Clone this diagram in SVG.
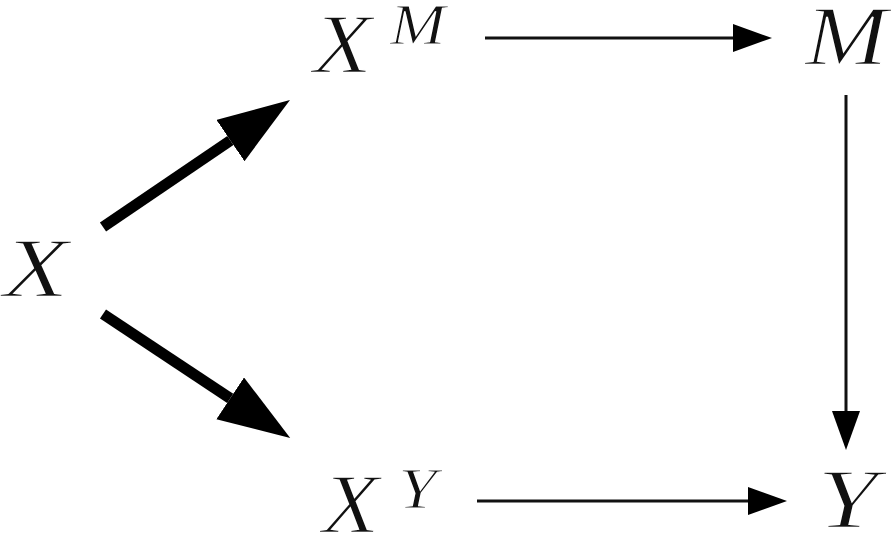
<svg xmlns="http://www.w3.org/2000/svg" width="894" height="536" viewBox="0 0 894 536">
<style>
.lbl{font-family:"Liberation Serif","Times New Roman",serif;font-style:italic;fill:#111;font-size:84px;stroke:#fff;stroke-width:1.6px}
.sup{font-size:58px;stroke-width:1.2px}
.thin{stroke:#111;stroke-width:3;fill:none}
.thick{stroke:#000;stroke-width:11;fill:none}
</style>
<defs>
<marker id="hs" markerUnits="userSpaceOnUse" markerWidth="40" markerHeight="30" refX="0" refY="14" orient="auto" viewBox="0 0 40 30">
<path d="M0,0 L39,14 L0,28 z" fill="#000"/>
</marker>
<marker id="hb" markerUnits="userSpaceOnUse" markerWidth="74" markerHeight="52" refX="0" refY="25" orient="auto" viewBox="0 0 74 52">
<path d="M0,0 L72,25 L0,50 z" fill="#000"/>
</marker>
</defs>
<g id="connectors">
<path class="thick" d="M103,227 L230.4,140.5" marker-end="url(#hb)"/>
<path class="thick" d="M103,314 L230.2,398.3" marker-end="url(#hb)"/>
<path class="thin" d="M485,38 L733,38" marker-end="url(#hs)"/>
<path class="thin" d="M846,95 L846,411" marker-end="url(#hs)"/>
<path class="thin" d="M477,501 L748,501" marker-end="url(#hs)"/>
</g>
<g id="node-X"><text class="lbl" transform="translate(3,297) scale(1.28,1)">X</text></g>
<g id="node-XM"><text class="lbl" transform="translate(313,73) scale(1.15,1)">X</text><text class="lbl sup" transform="translate(390,44) scale(1.15,1)">M</text></g>
<g id="node-M"><text class="lbl" transform="translate(805,65) scale(1.18,1)">M</text></g>
<g id="node-XY"><text class="lbl" transform="translate(322,533) scale(1.12,1)">X</text><text class="lbl sup" transform="translate(398,508) scale(1.2,1)">Y</text></g>
<g id="node-Y"><text class="lbl" transform="translate(817,528) scale(1.3,1)">Y</text></g>
</svg>
